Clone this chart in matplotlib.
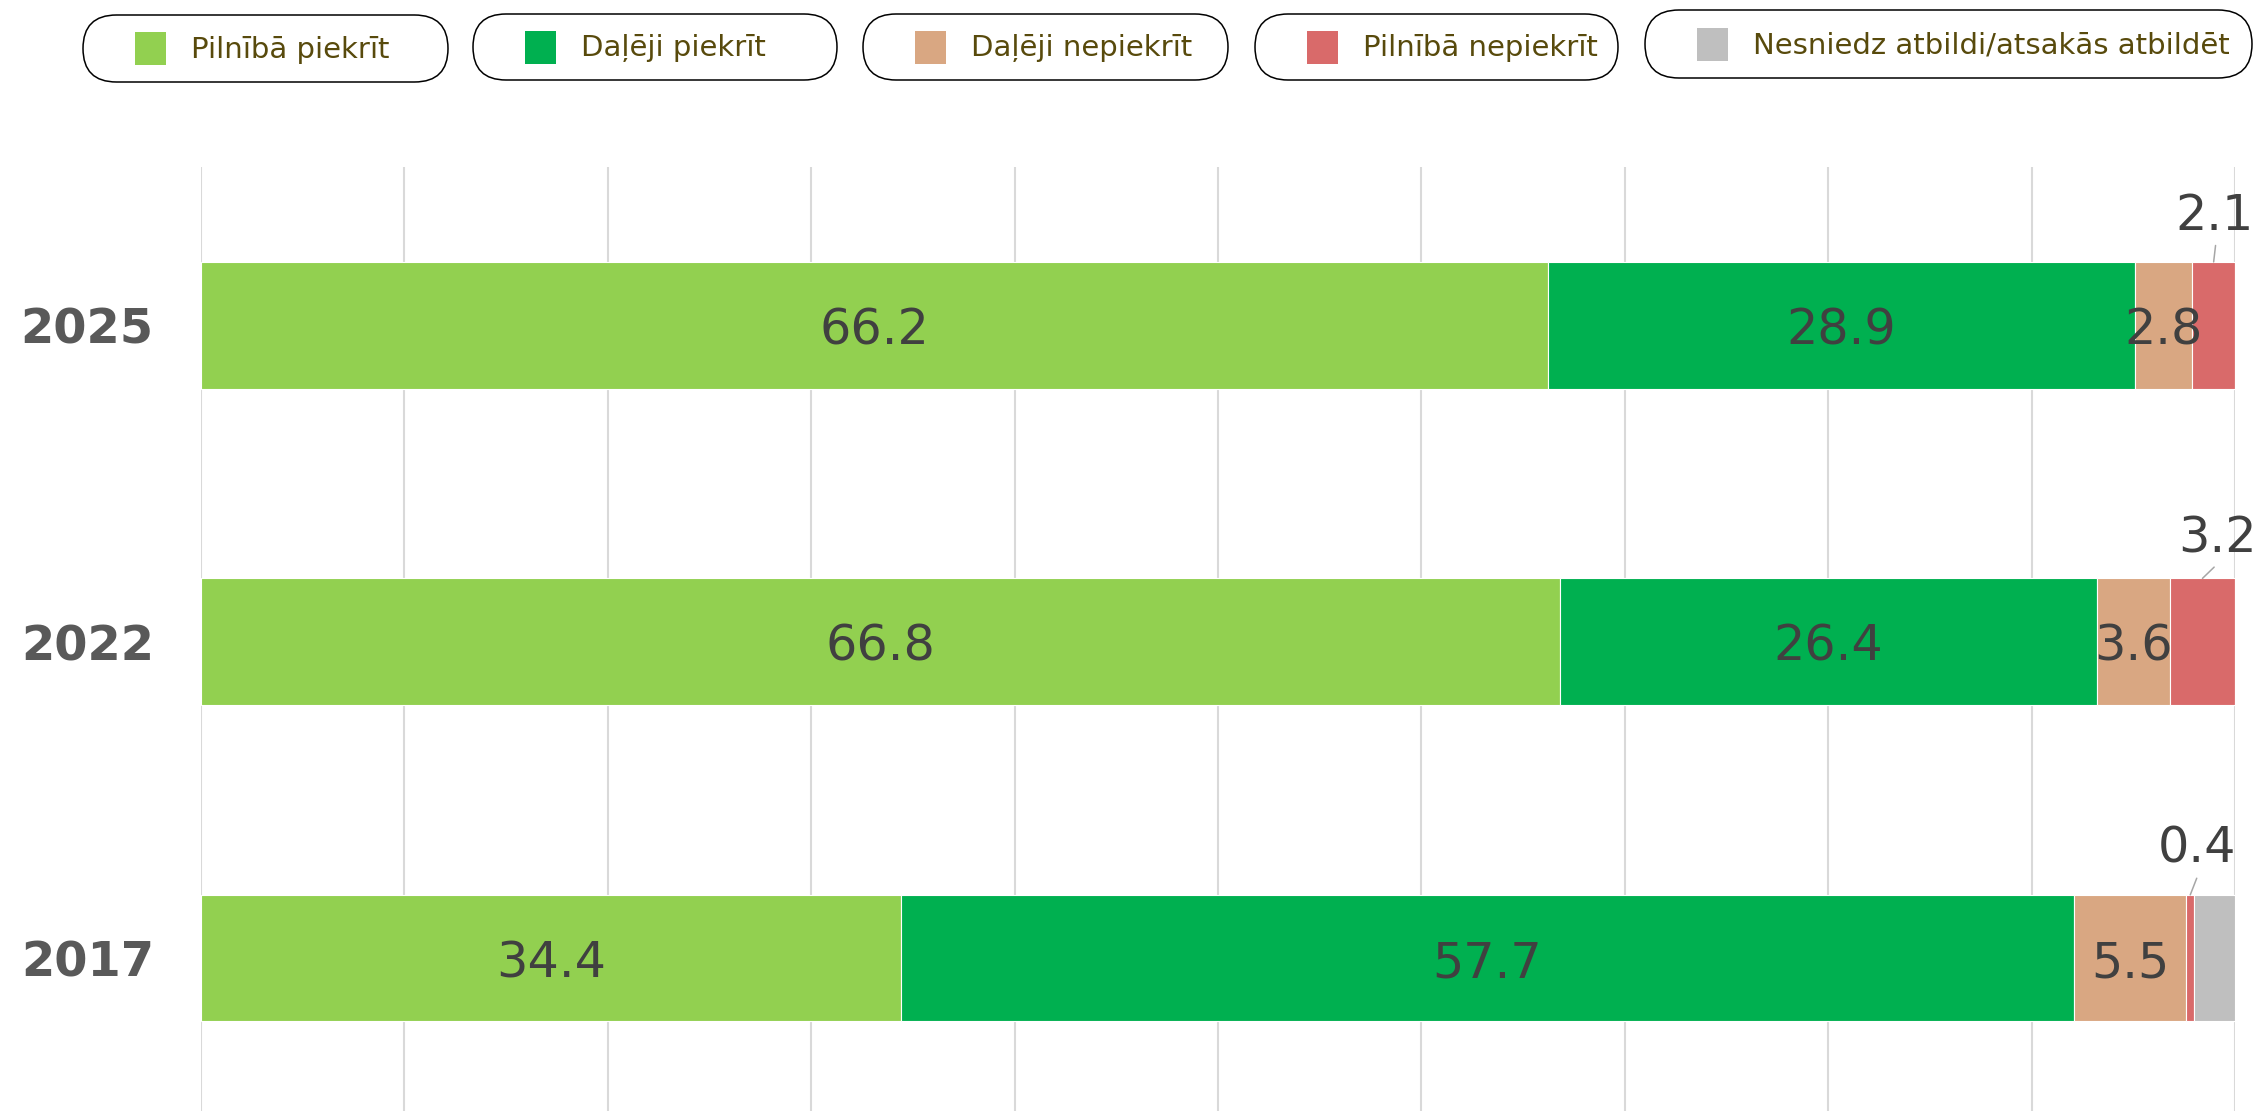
import matplotlib
matplotlib.use("Agg")
import matplotlib.pyplot as plt
from matplotlib.patches import FancyBboxPatch, Rectangle
import numpy as np

# ---------------- data ----------------
years = ["2025", "2022", "2017"]
series_names = ["Pilnībā piekrīt", "Daļēji piekrīt", "Daļēji nepiekrīt",
                "Pilnībā nepiekrīt", "Nesniedz atbildi/atsakās atbildēt"]
fully_agree = [66.2, 66.8, 34.4]
partly_agree = [28.9, 26.4, 57.7]
partly_disagree = [2.8, 3.6, 5.5]
fully_disagree = [2.1, 3.2, 0.4]
no_answer = [0.0, 0.0, 2.0]

# ---------------- style ----------------
colors = ["#92D050", "#00B050", "#D9A782", "#D96A6A", "#BFBFBF"]
label_color = "#404040"
year_color = "#595959"
legend_text_color = "#584A0C"
grid_color = "#D9D9D9"

W, H = 2262, 1111
fig = plt.figure(figsize=(W / 100, H / 100), dpi=100)
fig.patch.set_facecolor("white")

ax_left, ax_right, ax_top = 201, 2235, 167
ax = fig.add_axes([ax_left / W, 0, (ax_right - ax_left) / W, (H - ax_top) / H])

series = [fully_agree, partly_agree, partly_disagree, fully_disagree, no_answer]
y = np.arange(len(years))
bar_h = 0.4
left = np.zeros(len(years))

# callouts (series index = Pilnībā nepiekrīt) : offsets in pixels
callout_series = 3
callout_offsets = {0: (1, 32), 1: (15, 26), 2: (7, 32)}
hidden_labels = {(4, 2)}

for si, vals in enumerate(series):
    vals = np.array(vals, dtype=float)
    ax.barh(y, vals, left=left, height=bar_h, color=colors[si],
            edgecolor="white", linewidth=0.8, zorder=3)
    for yi, (v, l0) in enumerate(zip(vals, left)):
        if v <= 0 or (si, yi) in hidden_labels:
            continue
        cx = l0 + v / 2
        if si == callout_series:
            dx, dy = callout_offsets[yi]
            ax.annotate(f"{v:.1f}", xy=(cx, yi - bar_h / 2),
                        xytext=(dx, dy), textcoords="offset pixels",
                        ha="center", va="baseline", fontsize=35.5,
                        color=label_color, zorder=5, annotation_clip=False,
                        arrowprops=dict(arrowstyle="-", color="#A6A6A6", lw=1.1,
                                        shrinkA=2, shrinkB=0, relpos=(0.52, 0)))
        else:
            ax.text(cx, yi, f"{v:.1f}", ha="center", va="center_baseline",
                    fontsize=35.5, color=label_color, zorder=5)
    left = left + vals

ax.set_xlim(0, 100)
ax.set_ylim(2.483, -0.5)
ax.set_xticks(np.arange(0, 101, 10))
ax.xaxis.grid(True, color=grid_color, linewidth=1.5, zorder=0)
ax.set_axisbelow(True)
ax.tick_params(axis="x", length=0, labelbottom=False)
ax.set_yticks(y)
ax.set_yticklabels(years, fontsize=34.5, fontweight="bold", color=year_color)
ax.tick_params(axis="y", length=0, pad=34)
for s in ax.spines.values():
    s.set_visible(False)

# ---------------- legend (pill boxes) ----------------
lg = fig.add_axes([0, 0, 1, 1], zorder=10)
lg.set_xlim(0, W)
lg.set_ylim(H, 0)
lg.axis("off")
lg.patch.set_alpha(0)

box_lefts = [83, 473, 863, 1255, 1645]
box_rights = [448, 837, 1228, 1618, 2252]
box_tops = [15, 14, 14, 14, 10]
box_bottoms = [82, 80, 80, 80, 78]
for i, name in enumerate(series_names):
    x0, x1, t, b = box_lefts[i], box_rights[i], box_tops[i], box_bottoms[i]
    h = b - t
    lg.add_patch(FancyBboxPatch((x0, t), x1 - x0, h,
                                boxstyle=f"round,pad=0,rounding_size={h / 2}",
                                facecolor="white", edgecolor="black", linewidth=1.1))
    cy = (t + b) / 2
    sq_x = x0 + 52
    lg.add_patch(Rectangle((sq_x, cy - 16.5), 31, 33, facecolor=colors[i], edgecolor="none"))
    lg.text(sq_x + 31 + 25, cy + 1, name, ha="left", va="center",
            fontsize=21, color=legend_text_color)

fig.savefig("out.png", dpi=100, facecolor="white")
